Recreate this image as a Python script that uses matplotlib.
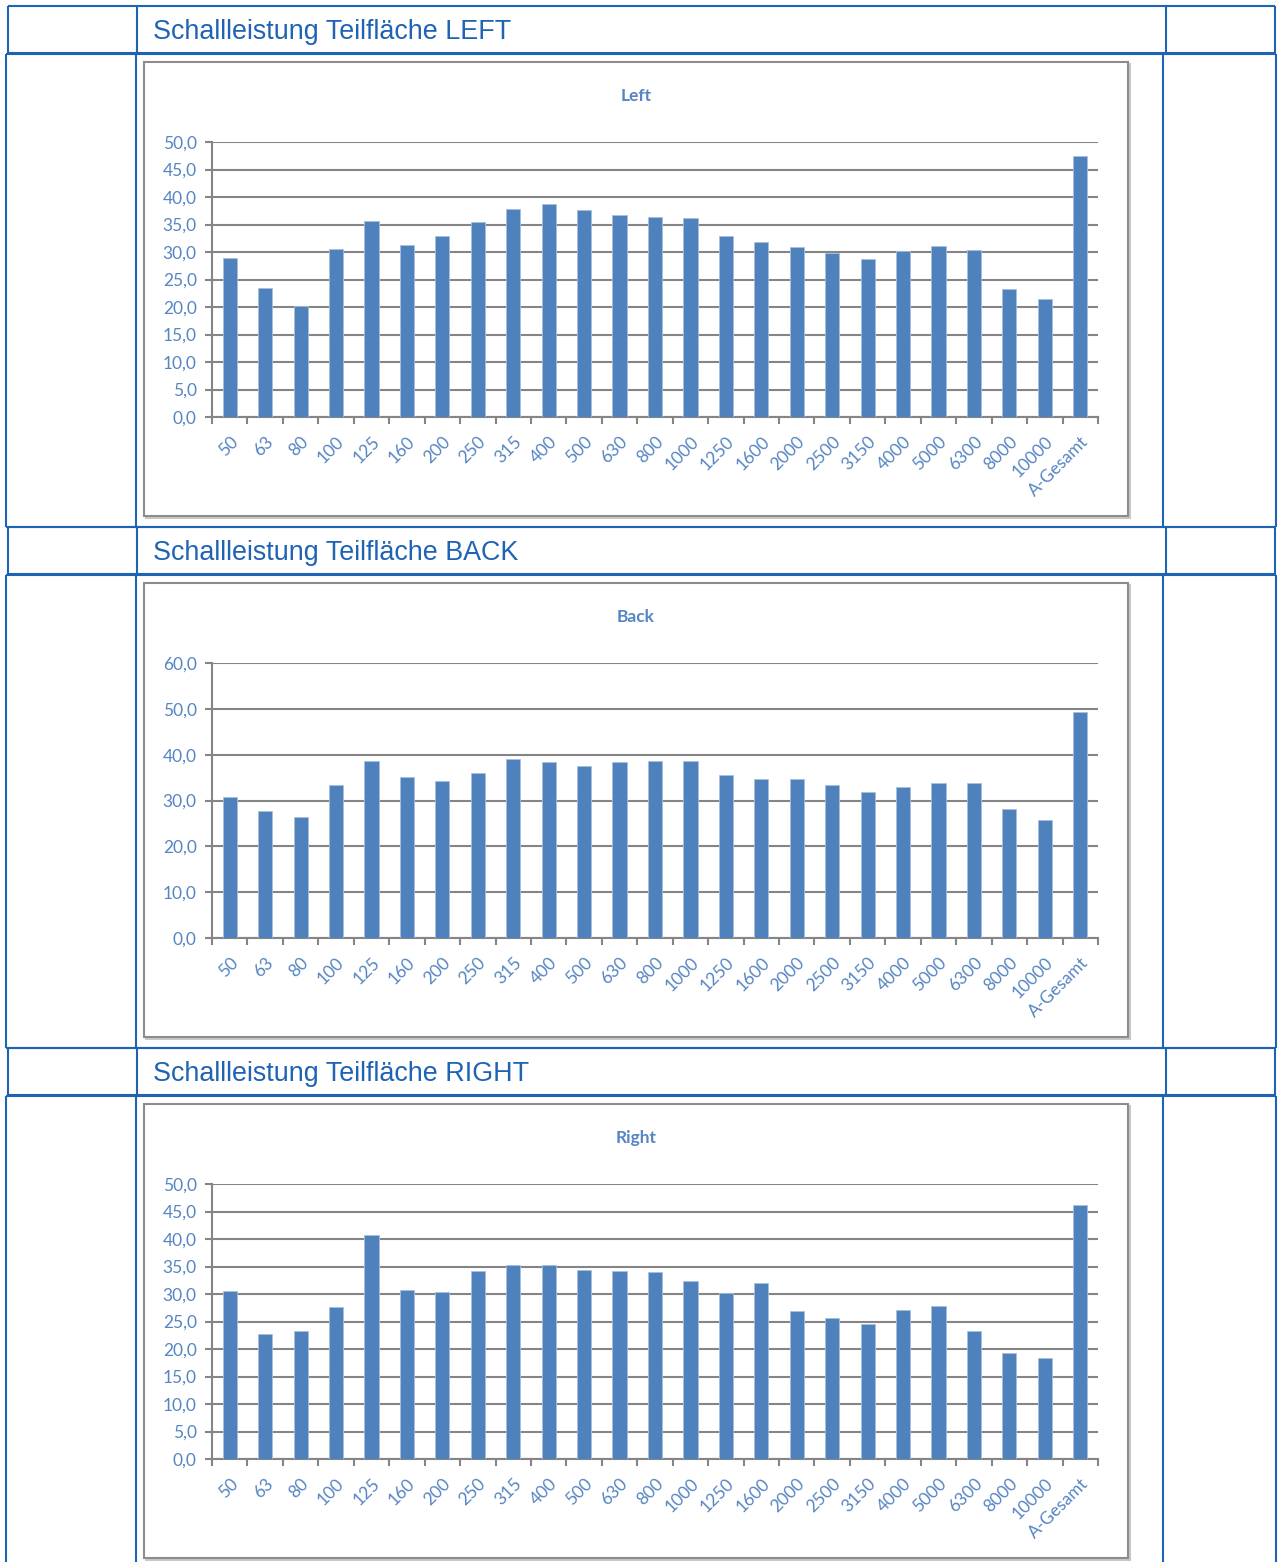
import numpy as np
import matplotlib
matplotlib.use("Agg")
import matplotlib.pyplot as plt
from matplotlib.patches import Rectangle
from matplotlib.ticker import FuncFormatter, MultipleLocator


# Terzband-Mittenfrequenzen + Summenpegel
BANDS = ["50", "63", "80", "100", "125", "160", "200", "250", "315", "400",
         "500", "630", "800", "1000", "1250", "1600", "2000", "2500", "3150",
         "4000", "5000", "6300", "8000", "10000", "A-Gesamt"]

LW_LEFT = [29.0, 23.4, 20.2, 30.5, 35.6, 31.2, 32.9, 35.5, 37.8, 38.8,
           37.6, 36.8, 36.4, 36.1, 32.9, 31.8, 30.9, 29.9, 28.7, 30.2,
           31.1, 30.4, 23.2, 21.4, 47.5]

LW_BACK = [30.7, 27.7, 26.5, 33.3, 38.7, 35.2, 34.2, 36.1, 39.0, 38.5,
           37.6, 38.3, 38.6, 38.6, 35.6, 34.6, 34.6, 33.3, 31.8, 33.0,
           33.9, 33.9, 28.1, 25.8, 49.3]

LW_RIGHT = [30.5, 22.8, 23.3, 27.6, 40.8, 30.8, 30.4, 34.2, 35.2, 35.3,
            34.4, 34.2, 34.0, 32.4, 30.2, 32.0, 26.9, 25.6, 24.5, 27.1,
            27.8, 23.2, 19.3, 18.3, 46.1]

SECTIONS = [
    ("Schallleistung Teilfläche LEFT", "Left", LW_LEFT, 50, 5),
    ("Schallleistung Teilfläche BACK", "Back", LW_BACK, 60, 10),
    ("Schallleistung Teilfläche RIGHT", "Right", LW_RIGHT, 50, 5),
]

W, H = 1282, 1562
TABLE_BLUE = "#1F63B4"
BAR_BLUE = "#4F81BD"
LABEL_BLUE = "#5585C2"
GRID_GRAY = "#858585"
STEP = 521  # Hoehe eines Abschnitts (Kopfzeile + Diagramm) in px

fig = plt.figure(figsize=(W / 100, H / 100), dpi=100)
fig.patch.set_facecolor("white")

# Hintergrund-Achse in Pixelkoordinaten fuer Tabelle und Rahmen
bg = fig.add_axes([0, 0, 1, 1], zorder=0)
bg.set_xlim(0, W)
bg.set_ylim(H, 0)
bg.axis("off")

lw_tab = 1.5


def hline(y, x0, x1):
    bg.plot([x0, x1], [y, y], color=TABLE_BLUE, lw=lw_tab, solid_capstyle="butt")


def vline(x, y0, y1):
    bg.plot([x, x], [y0, y1], color=TABLE_BLUE, lw=lw_tab, solid_capstyle="butt")


def px_axes(x0, y0, x1, y1):
    return fig.add_axes([x0 / W, 1 - y1 / H, (x1 - x0) / W, (y1 - y0) / H], zorder=2)


fmt = FuncFormatter(lambda v, pos: f"{v:.1f}".replace(".", ","))
x = np.arange(len(BANDS))

for k, (header, title, values, ymax, ystep) in enumerate(SECTIONS):
    off = k * STEP

    # Kopfzeile
    top, bot = 6 + off, 53 + off
    hline(top, 8, 1275)
    hline(bot, 8, 1275)
    for xv in (8, 137, 1166, 1275):
        vline(xv, top, bot)
    bg.text(153, (top + bot) / 2 + 2.5, header, fontsize=19.4, color=TABLE_BLUE,
            family="Liberation Sans", va="center", ha="left")

    # Diagrammzeile
    ctop, cbot = 54 + off, min(527 + off, H + 5)
    hline(ctop, 6, 1276)
    if cbot < H:
        hline(cbot, 6, 1276)
    for xv in (6, 136, 1163, 1276):
        vline(xv, ctop, cbot)

    # Diagrammrahmen mit leichtem Schatten
    bg.add_patch(Rectangle((146, 64 + off), 984, 454, fill=False,
                           edgecolor="#C8C8C8", lw=1.5))
    bg.add_patch(Rectangle((144, 62 + off), 984, 454, facecolor="white",
                           edgecolor="#8C8C8C", lw=1.5))
    bg.text(636, 96 + off, title, fontsize=12.5, fontweight="bold",
            color=LABEL_BLUE, family="Lato", ha="center", va="center")

    # Balkendiagramm
    ax = px_axes(212, 142 + off, 1098, 417 + off)
    ax.set_facecolor("white")
    ax.bar(x, values, width=0.4, color=BAR_BLUE, edgecolor="#A7BFDF",
           linewidth=0.6, zorder=3)
    ax.set_xlim(-0.5, len(BANDS) - 0.5)
    ax.set_ylim(0, ymax)
    ax.yaxis.set_major_locator(MultipleLocator(ystep))
    ax.yaxis.set_major_formatter(fmt)
    ax.grid(axis="y", color=GRID_GRAY, lw=1.5, zorder=1)
    ax.set_axisbelow(True)

    for side in ("top", "right"):
        ax.spines[side].set_visible(False)
    for side in ("left", "bottom"):
        ax.spines[side].set_color(GRID_GRAY)
        ax.spines[side].set_linewidth(1.5)

    ax.set_xticks(np.arange(-0.5, len(BANDS), 1))
    ax.set_xticklabels([])
    ax.set_xticks(x, minor=True)
    ax.set_xticklabels(BANDS, minor=True, rotation=45, ha="right",
                       rotation_mode="anchor", fontsize=12.5, color=LABEL_BLUE,
                       family="Lato")
    ax.tick_params(axis="x", which="major", direction="out", length=5,
                   color=GRID_GRAY, width=1.5)
    ax.tick_params(axis="x", which="minor", length=0, pad=12)
    ax.tick_params(axis="y", direction="out", length=5, color=GRID_GRAY,
                   width=1.5, labelsize=12.5, labelcolor=LABEL_BLUE, pad=6)
    for lab in ax.get_yticklabels():
        lab.set_family("Lato")

fig.savefig("out.png", dpi=100, facecolor="white")
